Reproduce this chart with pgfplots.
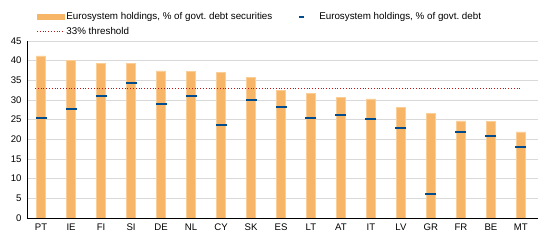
\documentclass[border=0pt]{standalone}
\usepackage{pgfplots}
\pgfplotsset{compat=1.18}
\usepackage{fontspec}
\setmainfont{Liberation Sans}
\definecolor{barcol}{RGB}{247,182,103}
\definecolor{baredge}{RGB}{250,206,150}
\definecolor{markcol}{RGB}{0,75,140}
\definecolor{thrcol}{RGB}{190,20,20}
\definecolor{gridcol}{RGB}{217,217,217}
\begin{document}
\begin{tikzpicture}
\useasboundingbox (0,0) rectangle (550pt,241pt);
\begin{axis}[
  at={(27pt,23pt)}, anchor=south west,
  scale only axis, width=511pt, height=177pt,
  xmin=-0.47, xmax=16.57, ymin=0, ymax=45,
  ytick={0,5,...,45},
  xtick={0,...,16},
  xticklabels={PT,IE,FI,SI,DE,NL,CY,SK,ES,LT,AT,IT,LV,GR,FR,BE,MT},
  axis x line*=bottom, axis y line*=left,
  axis line style={black, line width=0.8pt, -},
  ymajorgrids, grid style={gridcol, line width=0.8pt},
  major tick length=0pt,
  /pgf/number format/assume math mode=true,
  tick label style={font=\fontsize{9.6}{11}\selectfont},
  yticklabel style={xshift=-2pt},
  xticklabel style={yshift=-2pt},
  legend columns=2,
  legend cell align=left,
  legend style={draw=none, fill=none, inner sep=0pt,
    at={(axis description cs:0.018,1.175)}, anchor=north west,
    font=\fontsize{9.8}{11}\selectfont,
    /tikz/every even column/.append style={column sep=24pt},
    row sep=2.5pt},
]
\addplot[ybar, bar width=0.31, fill=barcol, draw=baredge, line width=0.5pt,
  legend image code/.code={\fill[barcol] (0pt,-2.5pt) rectangle (27pt,2.5pt);}]
coordinates {(0,41.2) (1,40.0) (2,39.4) (3,39.4) (4,37.4) (5,37.3) (6,37.1) (7,35.8)
 (8,32.4) (9,31.6) (10,30.6) (11,30.3) (12,28.1) (13,26.6) (14,24.7) (15,24.6) (16,21.9)};
\addlegendentry{Eurosystem holdings, \% of govt.\ debt securities}
\addplot[only marks, mark=-, mark size=5.5pt, mark options={line width=2pt, markcol},
  legend image code/.code={\fill[markcol] (0.5pt,-0.75pt) rectangle (5pt,0.75pt); \path[draw=none,fill=none] (0pt,0pt) rectangle (19pt,0.1pt);}]
coordinates {(0,25.3) (1,27.6) (2,31.0) (3,34.4) (4,29.1) (5,31.1) (6,23.7) (7,30.0)
 (8,28.1) (9,25.3) (10,26.3) (11,25.2) (12,22.8) (13,6.0) (14,21.8) (15,20.8) (16,18.0)};
\addlegendentry{Eurosystem holdings, \% of govt.\ debt}
\addplot[thrcol, line width=1pt, dash pattern=on 1pt off 1.8pt,
  legend image code/.code={\draw[thrcol, line width=1pt, dash pattern=on 1pt off 1.8pt] (0pt,0pt) -- (27pt,0pt);}]
coordinates {(-0.2,33) (16,33)};
\addlegendentry{33\% threshold}
\end{axis}
\end{tikzpicture}
\end{document}
